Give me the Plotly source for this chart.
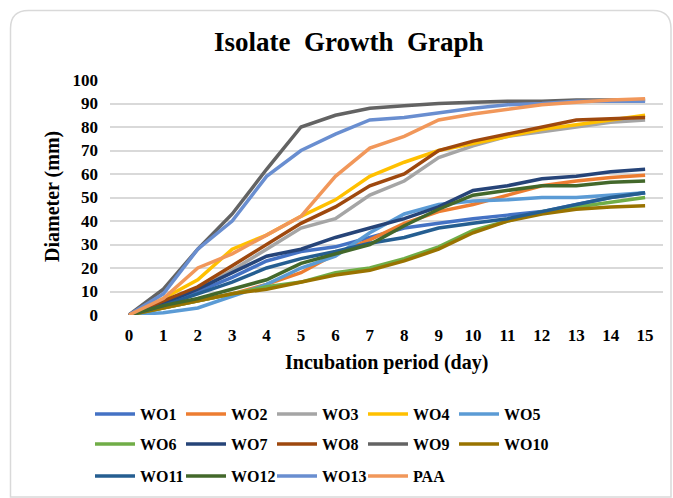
import plotly.graph_objects as go

days = list(range(16))

series_names = ["WO1", "WO2", "WO3", "WO4", "WO5", "WO6", "WO7",
                "WO8", "WO9", "WO10", "WO11", "WO12", "WO13", "PAA"]

WO1 = [0, 5, 10, 16, 23, 27, 29, 33, 37, 39, 41, 42.5, 44, 47, 50, 52]
WO2 = [0, 3, 6, 9, 13, 18, 26, 32, 39, 44, 47, 51, 55, 57, 58.5, 59.5]
WO3 = [0, 6, 11, 19, 28, 37, 41, 51, 57, 67, 72, 76, 78, 80, 82, 83]
WO4 = [0, 7, 15, 28, 34, 42, 49, 59, 65, 70, 73, 76, 79, 81, 83, 85]
WO5 = [0, 1, 3, 8, 13, 20, 25, 35, 43, 47, 48.5, 49, 50, 50, 51, 52]
WO6 = [0, 3, 6, 9, 12, 14, 18, 20, 24, 29, 36, 40, 44, 46, 48, 50]
WO7 = [0, 5, 11, 18, 25, 28, 33, 37, 41, 46, 53, 55, 58, 59, 61, 62]
WO8 = [0, 6, 12, 21, 30, 39, 46, 55, 60, 70, 74, 77, 80, 83, 83.5, 84]
WO9 = [0, 11, 28, 43, 62, 80, 85, 88, 89, 90, 90.5, 91, 91, 91.5, 91.5, 91.5]
WO10 = [0, 3, 6, 9, 11, 14, 17, 19, 23, 28, 35, 40, 43, 45, 46, 46.5]
WO11 = [0, 4, 9, 14, 20, 24, 27, 30.5, 33, 37, 39, 41, 44, 47, 50, 52]
WO12 = [0, 4, 7, 11, 15, 22, 26, 30, 38, 45, 51, 53, 55, 55, 56.5, 57]
WO13 = [0, 9, 28, 40, 59, 70, 77, 83, 84, 86, 88, 89.5, 90, 91, 91, 91]
PAA = [0, 7, 20, 26, 34, 42, 59, 71, 76, 83, 85.5, 87.5, 89.5, 90.5, 91.5, 92]

series_values = [WO1, WO2, WO3, WO4, WO5, WO6, WO7,
                 WO8, WO9, WO10, WO11, WO12, WO13, PAA]

colors = ["#4472C4", "#ED7D31", "#A5A5A5", "#FFC000", "#5B9BD5", "#70AD47", "#264478",
          "#9E480E", "#636363", "#997300", "#255E91", "#43682B", "#698ED0", "#F1975A"]

y_ticks = [0, 10, 20, 30, 40, 50, 60, 70, 80, 90, 100]

FONT = "Liberation Serif"
W, H = 673, 498
ML, MR, MT, MB = 110, 10, 80, 183
PW, PH = W - ML - MR, H - MT - MB


def px(x):
    return (x - ML) / PW


def py(y):
    return (H - MB - y) / PH


fig = go.Figure()
legend_ids = ["legend", "legend2", "legend3"]
for i, (name, vals, col) in enumerate(zip(series_names, series_values, colors)):
    fig.add_trace(go.Scatter(
        x=days, y=vals, name=name, mode="lines",
        line=dict(color=col, width=3.5),
        legend=legend_ids[i // 5],
        hoverinfo="x+y+name",
    ))

# invisible spacer entries so the last legend column is not clipped
for lid in legend_ids:
    fig.add_trace(go.Scatter(
        x=[None], y=[None], name=" ", mode="lines",
        line=dict(color="rgba(0,0,0,0)", width=0),
        legend=lid, hoverinfo="skip",
    ))

leg_common = dict(
    orientation="h", xanchor="left", yanchor="middle",
    font=dict(family=FONT, size=16, color="#000000", weight="bold"),
    bgcolor="rgba(0,0,0,0)", entrywidth=36, entrywidthmode="pixels",
    itemwidth=40, tracegroupgap=0,
)
row_y = [414, 444, 476]
fig.update_layout(
    legend=dict(x=px(90), y=py(row_y[0]), **leg_common),
    legend2=dict(x=px(90), y=py(row_y[1]), **leg_common),
    legend3=dict(x=px(90), y=py(row_y[2]), **leg_common),
)

fig.update_layout(
    width=W, height=H,
    margin=dict(l=ML, r=MR, t=MT, b=MB, autoexpand=False),
    paper_bgcolor="white", plot_bgcolor="white",
    showlegend=True,
    xaxis=dict(
        range=[-0.55, 15.52], tickmode="array", tickvals=days,
        ticktext=[str(d) for d in days], showgrid=False, zeroline=False,
        showline=False, ticks="", ticklabelstandoff=8,
        tickfont=dict(family=FONT, size=17, color="#000000", weight="bold"),
    ),
    yaxis=dict(
        range=[0, 100], tickmode="array", tickvals=y_ticks,
        ticktext=[str(v) for v in y_ticks], showgrid=True, gridcolor="#D9D9D9",
        gridwidth=1.5, zeroline=False, showline=False, ticks="",
        ticklabelstandoff=11,
        tickfont=dict(family=FONT, size=17, color="#000000", weight="bold"),
    ),
    annotations=[
        dict(text="<b>Isolate  Growth  Graph</b>", x=px(349), y=py(42),
             xref="paper", yref="paper", showarrow=False,
             font=dict(family=FONT, size=27, color="#000000"),
             xanchor="center", yanchor="middle"),
        dict(text="<b>Incubation period (day)</b>", x=px(386), y=py(362),
             xref="paper", yref="paper", showarrow=False,
             font=dict(family=FONT, size=20, color="#000000"),
             xanchor="center", yanchor="middle"),
        dict(text="<b>Diameter (mm)</b>", x=px(52), y=py(197),
             xref="paper", yref="paper", showarrow=False, textangle=-90,
             font=dict(family=FONT, size=20, color="#000000"),
             xanchor="center", yanchor="middle"),
    ],
)

# rounded chart-area border
x0, x1, y0, y1, r = 10.5, 671, 10.5, 497, 18
path = (f"M {px(x0)},{py(y0 + r)} "
        f"Q {px(x0)},{py(y0)} {px(x0 + r)},{py(y0)} "
        f"L {px(x1 - r)},{py(y0)} "
        f"Q {px(x1)},{py(y0)} {px(x1)},{py(y0 + r)} "
        f"L {px(x1)},{py(y1)} L {px(x0)},{py(y1)} Z")
fig.add_shape(type="path", path=path, xref="paper", yref="paper",
              line=dict(color="#D9D9D9", width=1.5), layer="below")

fig.write_html(
    "out.html",
    config={"displayModeBar": False},
    post_script="document.body.style.margin='0px';document.body.style.overflow='hidden';",
)
